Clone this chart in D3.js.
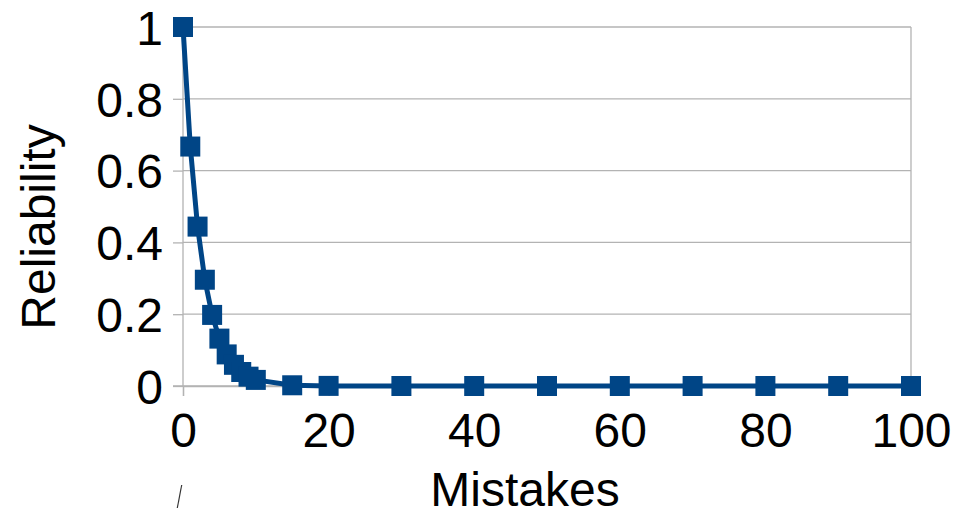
<!DOCTYPE html>
<html>
<head>
<meta charset="utf-8">
<script src="https://cdn.jsdelivr.net/npm/d3@7"></script>
<style>
  body { margin: 0; background: #fff; }
  svg { display: block; font-family: "Liberation Sans", Arial, sans-serif; }
</style>
</head>
<body>
<div id="chart"></div>
<script>
// data
var mistakes = [0, 1, 2, 3, 4, 5, 6, 7, 8, 9, 10, 15, 20, 30, 40, 50, 60, 70, 80, 90, 100];
var reliability = [1, 0.667, 0.444, 0.296, 0.198, 0.132, 0.088, 0.059, 0.039, 0.026, 0.017, 0.002, 0.0003, 0, 0, 0, 0, 0, 0, 0, 0];
var xTicks = [0, 20, 40, 60, 80, 100];
var yTicks = [0, 0.2, 0.4, 0.6, 0.8, 1];

var W = 967, H = 509;
var margin = { top: 27, right: 56, bottom: 123, left: 183 },
    width = W - margin.left - margin.right,
    height = H - margin.top - margin.bottom;

var blue = "#004586", grid = "#b3b3b3";
var fontSize = "48px";

var svg = d3.select("#chart").append("svg")
  .attr("width", W)
  .attr("height", H);

var g = svg.append("g")
  .attr("transform", "translate(" + margin.left + "," + margin.top + ")");

var x = d3.scaleLinear().domain([0, 100]).range([0, width]);
var y = d3.scaleLinear().domain([0, 1]).range([height, 0]);

// horizontal gridlines
g.append("g").selectAll("line")
  .data(yTicks)
  .enter().append("line")
  .attr("x1", 0).attr("x2", width)
  .attr("y1", function(d) { return y(d); })
  .attr("y2", function(d) { return y(d); })
  .attr("stroke", grid).attr("stroke-width", 1.3);

// right border
g.append("line")
  .attr("x1", width).attr("x2", width)
  .attr("y1", 0).attr("y2", height)
  .attr("stroke", grid).attr("stroke-width", 1.3);

// axes
var yAxis = d3.axisLeft(y).tickValues(yTicks).tickSize(10).tickPadding(10)
  .tickFormat(function(d) { return d; });
var xAxis = d3.axisBottom(x).tickValues(xTicks).tickSize(10).tickPadding(8);

var ya = g.append("g").call(yAxis);
var xa = g.append("g").attr("transform", "translate(0," + height + ")").call(xAxis);

[ya, xa].forEach(function(a) {
  a.select(".domain").attr("stroke", grid).attr("stroke-width", 1.3);
  a.selectAll(".tick line").attr("stroke", grid).attr("stroke-width", 1.3);
  a.selectAll(".tick text")
    .attr("fill", "#000")
    .style("font-size", fontSize)
    .style("font-family", "Liberation Sans, Arial, sans-serif");
});
ya.select(".domain").attr("d", "M-10," + height + "H0V0H-10");
ya.selectAll(".tick text").attr("dy", "0.36em");
xa.selectAll(".tick text").attr("dy", "0.9em");

// line + markers
var line = d3.line()
  .x(function(d, i) { return x(mistakes[i]); })
  .y(function(d) { return y(d); });

g.append("path")
  .datum(reliability)
  .attr("d", line)
  .attr("fill", "none")
  .attr("stroke", blue)
  .attr("stroke-width", 5)
  .attr("stroke-linejoin", "round");

var ms = 20;
g.append("g").selectAll("rect")
  .data(reliability)
  .enter().append("rect")
  .attr("x", function(d, i) { return x(mistakes[i]) - ms / 2; })
  .attr("y", function(d) { return y(d) - ms / 2; })
  .attr("width", ms).attr("height", ms)
  .attr("fill", blue);

// axis titles
svg.append("text")
  .attr("x", 525).attr("y", 506)
  .attr("text-anchor", "middle")
  .style("font-size", fontSize)
  .text("Mistakes");

svg.append("text")
  .attr("transform", "translate(55,227) rotate(-90)")
  .attr("text-anchor", "middle")
  .style("font-size", fontSize)
  .text("Reliability");

// stray stroke near the bottom left
svg.append("line")
  .attr("x1", 181.7).attr("y1", 485)
  .attr("x2", 177.3).attr("y2", 508)
  .attr("stroke", "#333").attr("stroke-width", 1.2);
</script>
</body>
</html>
